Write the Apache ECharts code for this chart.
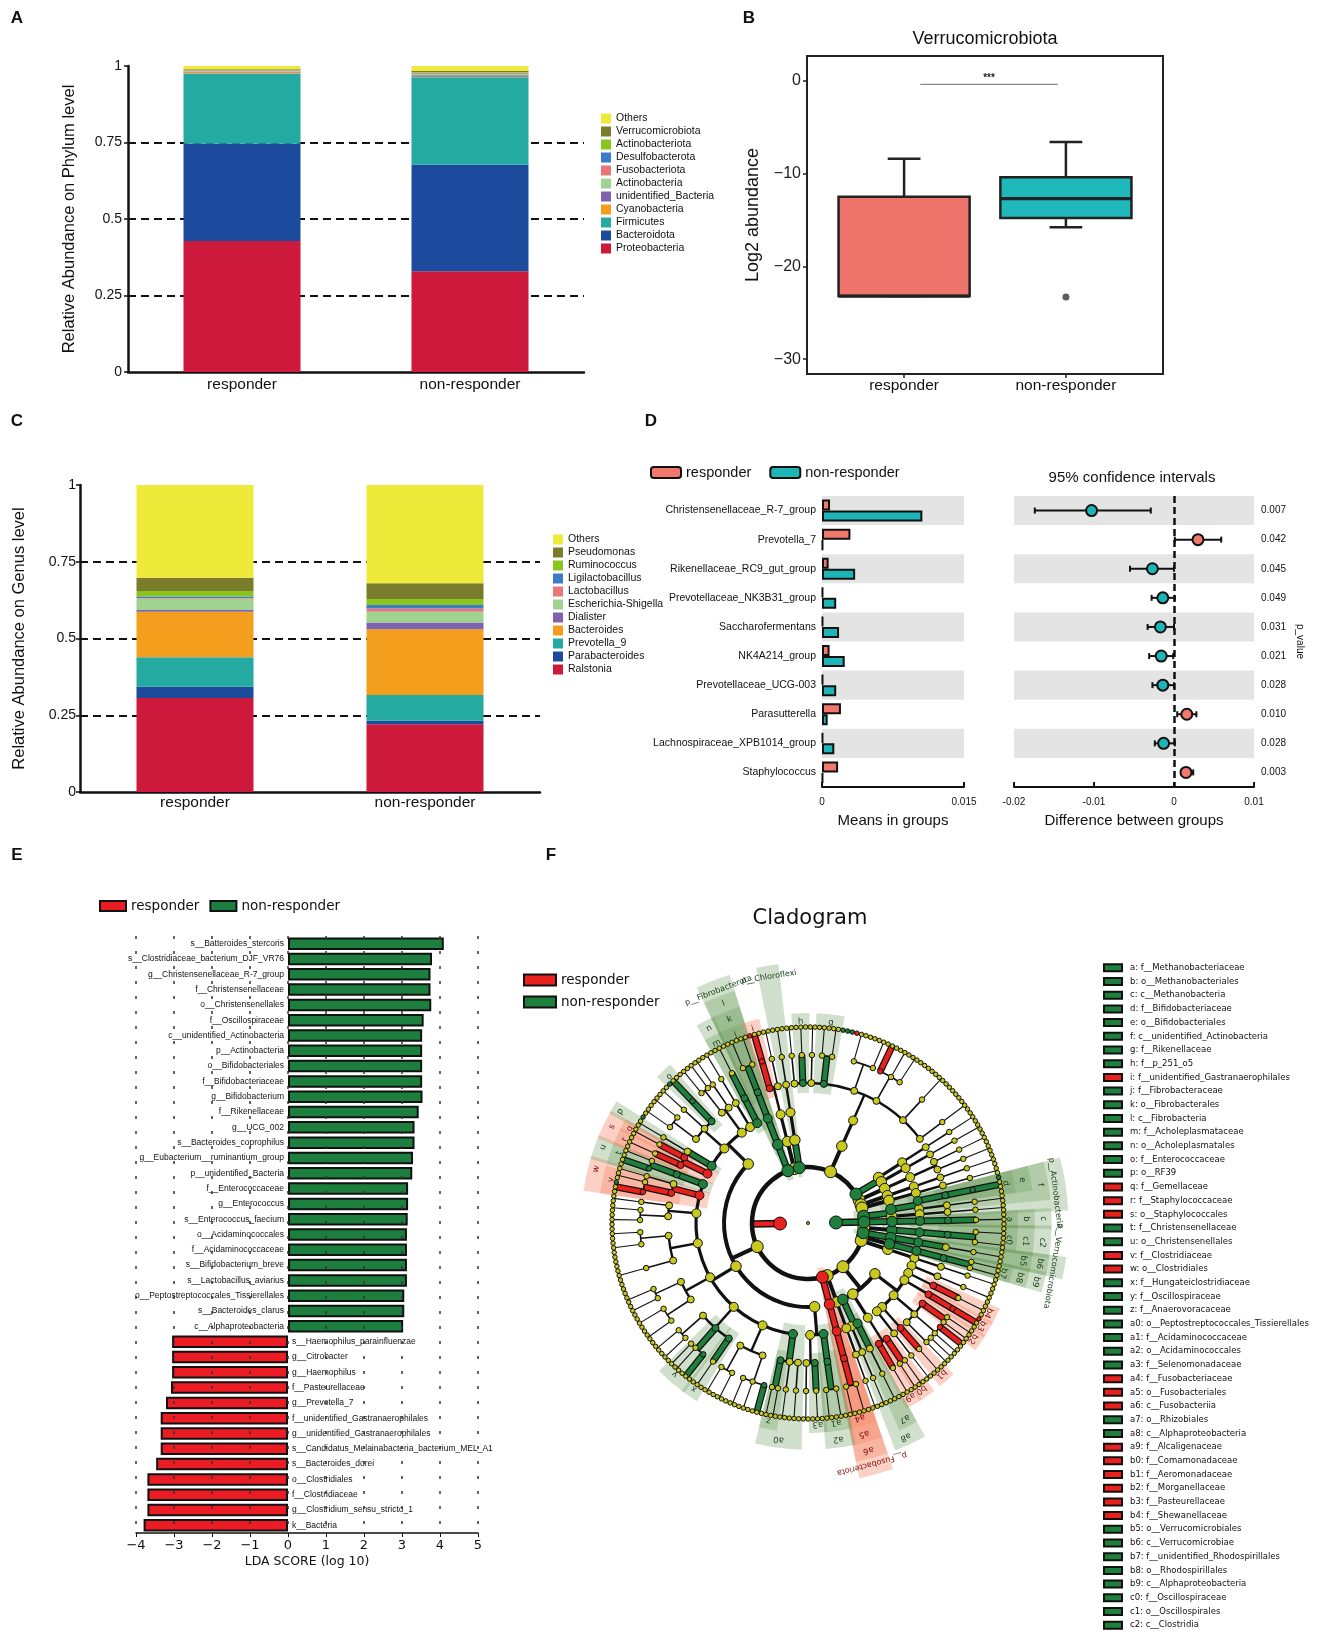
<!DOCTYPE html>
<html>
<head>
<meta charset="utf-8">
<title>Responder vs non-responder gut microbiota</title>
<script src="https://cdn.jsdelivr.net/npm/echarts@6.0.0/dist/echarts.min.js"></script>
<style>
  html, body { margin: 0; padding: 0; background: #fff; }
  #main { width: 1327px; height: 1637px; }
</style>
</head>
<body>
<div id="main"></div>
<script>
var groups = ['responder', 'non-responder'];
var groupPos = [1, 2];

// A: relative abundance, phylum level (stacked from the bottom up)
var phylumTaxa = ['Proteobacteria', 'Bacteroidota', 'Firmicutes', 'Cyanobacteria', 'unidentified_Bacteria', 'Actinobacteria', 'Fusobacteriota', 'Desulfobacterota', 'Actinobacteriota', 'Verrucomicrobiota', 'Others'];
var phylumResponder = [0.428, 0.318, 0.229, 0.004, 0.002, 0.002, 0.002, 0.001, 0.001, 0.002, 0.011];
var phylumNonResponder = [0.329, 0.348, 0.286, 0.002, 0.005, 0.004, 0.002, 0.002, 0.002, 0.004, 0.016];

// C: relative abundance, genus level
var genusTaxa = ['Ralstonia', 'Parabacteroides', 'Prevotella_9', 'Bacteroides', 'Dialister', 'Escherichia-Shigella', 'Lactobacillus', 'Ligilactobacillus', 'Ruminococcus', 'Pseudomonas', 'Others'];
var genusResponder = [0.306, 0.037, 0.096, 0.148, 0.006, 0.037, 0.002, 0.005, 0.018, 0.043, 0.302];
var genusNonResponder = [0.221, 0.011, 0.084, 0.214, 0.022, 0.035, 0.011, 0.011, 0.020, 0.051, 0.320];

// B: Verrucomicrobiota log2 abundance [min, q1, median, q3, max]
var boxStats = [[-23.2, -23.2, -23.2, -12.5, -8.4], [-15.8, -14.8, -12.7, -10.4, -6.6]];
var boxOutliers = [[2, -23.3]];
var sigBar = [1.1, 1.95, -0.4, '***'];

// D: STAMP extended error bar
var stampTaxa = ['Christensenellaceae_R-7_group', 'Prevotella_7', 'Rikenellaceae_RC9_gut_group', 'Prevotellaceae_NK3B31_group', 'Saccharofermentans', 'NK4A214_group', 'Prevotellaceae_UCG-003', 'Parasutterella', 'Lachnospiraceae_XPB1014_group', 'Staphylococcus'];
var stampResponder = [0.00085, 0.0030, 0.0007, 0.0001, 0.0001, 0.0008, 0.0001, 0.0020, 0.0001, 0.0017];
var stampNonResponder = [0.0106, 0.0001, 0.0035, 0.0015, 0.0018, 0.0024, 0.0015, 0.0006, 0.0013, 0.0001];
var stampDiff = [-0.0103, 0.0030, -0.0027, -0.0014, -0.0017, -0.0016, -0.0014, 0.0016, -0.0013, 0.0015];
var stampLow = [-0.0174, 0.0001, -0.0055, -0.0028, -0.0033, -0.0031, -0.0027, 0.0004, -0.0024, 0.0009];
var stampHigh = [-0.0029, 0.0059, 0.0000, 0.0001, 0.0000, -0.0001, 0.0000, 0.0028, 0.0001, 0.0024];
var stampP = ['0.007', '0.042', '0.045', '0.049', '0.031', '0.021', '0.028', '0.010', '0.028', '0.003'];

// E: LEfSe LDA scores (positive = non-responder, negative = responder)
var ldaTaxa = ['s__Batteroides_stercoris', 's__Clostridiaceae_bacterium_DJF_VR76', 'g__Christensenellaceae_R-7_group', 'f__Christensenellaceae', 'o__Christensenellales', 'f__Oscillospiraceae', 'c__unidentified_Actinobacteria', 'p__Actinobacteria', 'o__Bifidobacteriales', 'f__Bifidobacteriaceae', 'g__Bifidobacterium', 'f__Rikenellaceae', 'g__UCG_002', 's__Bacteroides_coprophilus', 'g__Eubacterium__ruminantium_group', 'p__unidentified_Bacteria', 'f__Enterococcaceae', 'g__Enterococcus', 's__Enterococcus_faecium', 'o__Acidaminococcales', 'f__Acidaminococcaceae', 's__Bifidobacterium_breve', 's__Lactobacillus_aviarius', 'o__Peptostreptococcales_Tissierellales', 's__Bacteroides_clarus', 'c__Alphaproteobacteria', 's__Haemophilus_parainfluenzae', 'g__Citrobacter', 'g__Haemophilus', 'f__Pasteurellaceae', 'g__Prevotella_7', 'f__unidentified_Gastranaerophilales', 'g__unidentified_Gastranaerophilales', 's__Candidatus_Melainabacteria_bacterium_MEL_A1', 's__Bacteroides_dorei', 'o__Clostridiales', 'f__Clostridiaceae', 'g__Clostridium_sensu_stricto_1', 'k__Bacteria'];
var ldaScore = [4.10, 3.79, 3.75, 3.75, 3.77, 3.57, 3.53, 3.53, 3.53, 3.53, 3.54, 3.44, 3.33, 3.33, 3.29, 3.27, 3.16, 3.16, 3.15, 3.13, 3.13, 3.13, 3.13, 3.06, 3.06, 3.03, -3.05, -3.05, -3.05, -3.08, -3.21, -3.35, -3.35, -3.35, -3.47, -3.70, -3.70, -3.70, -3.80];

// F: cladogram keys
var cladeKeys = ['a', 'b', 'c', 'd', 'e', 'f', 'g', 'h', 'i', 'j', 'k', 'l', 'm', 'n', 'o', 'p', 'q', 'r', 's', 't', 'u', 'v', 'w', 'x', 'y', 'z', 'a0', 'a1', 'a2', 'a3', 'a4', 'a5', 'a6', 'a7', 'a8', 'a9', 'b0', 'b1', 'b2', 'b3', 'b4', 'b5', 'b6', 'b7', 'b8', 'b9', 'c0', 'c1', 'c2'];
var cladeTaxa = ['f__Methanobacteriaceae', 'o__Methanobacteriales', 'c__Methanobacteria', 'f__Bifidobacteriaceae', 'o__Bifidobacteriales', 'c__unidentified_Actinobacteria', 'f__Rikenellaceae', 'f__p_251_o5', 'f__unidentified_Gastranaerophilales', 'f__Fibrobacteraceae', 'o__Fibrobacterales', 'c__Fibrobacteria', 'f__Acholeplasmataceae', 'o__Acholeplasmatales', 'f__Enterococcaceae', 'o__RF39', 'f__Gemellaceae', 'f__Staphylococcaceae', 'o__Staphylococcales', 'f__Christensenellaceae', 'o__Christensenellales', 'f__Clostridiaceae', 'o__Clostridiales', 'f__Hungateiclostridiaceae', 'f__Oscillospiraceae', 'f__Anaerovoracaceae', 'o__Peptostreptococcales_Tissierellales', 'f__Acidaminococcaceae', 'o__Acidaminococcales', 'f__Selenomonadaceae', 'f__Fusobacteriaceae', 'o__Fusobacteriales', 'c__Fusobacteriia', 'o__Rhizobiales', 'c__Alphaproteobacteria', 'f__Alcaligenaceae', 'f__Comamonadaceae', 'f__Aeromonadaceae', 'f__Morganellaceae', 'f__Pasteurellaceae', 'f__Shewanellaceae', 'o__Verrucomicrobiales', 'c__Verrucomicrobiae', 'f__unidentified_Rhodospirillales', 'o__Rhodospirillales', 'c__Alphaproteobacteria', 'f__Oscillospiraceae', 'o__Oscillospirales', 'c__Clostridia'];
var cladeGroups = ['n', 'n', 'n', 'n', 'n', 'n', 'n', 'n', 'r', 'n', 'n', 'n', 'n', 'n', 'n', 'n', 'r', 'r', 'r', 'n', 'n', 'r', 'r', 'n', 'n', 'n', 'n', 'n', 'n', 'n', 'r', 'r', 'r', 'n', 'n', 'r', 'r', 'r', 'r', 'r', 'r', 'n', 'n', 'n', 'n', 'n', 'n', 'n', 'n'];
var cladeExtraSig = ['k__Archaea', 'p__Euryarchaeota', 'p__Verrucomicrobiota', 'p__Fibrobacterota', 'p__Chloroflexi', 'p__Fusobacteriota'];
var cladeExtraGroup = ['n', 'n', 'n', 'n', 'n', 'r'];
var cladePhylumLabels = ['p__Verrucomicrobiota', 'p__Fusobacteriota', 'p__Fibrobacterota', 'p__Chloroflexi', 'p__Actinobacteria'];

// taxonomy tree, clockwise; [name, children...], 0 = unlabelled leaf, '' = unlabelled clade
var cladeTree = ['',
  ['k__Bacteria',
    ['', ['c2', ['c1', ['c0', ['', 0, 0, 0], ['', 0, 0]]]]],
    ['p__Verrucomicrobiota', ['b6', ['b5', ['', ['', 0, 0, 0]]]]],
    ['', ['b9', ['b8', ['b7', ['', 0, 0], ['', 0]]]]],
    ['', ['', ['', ['', ['', 0, 0, 0]]]]],
    ['',
      ['',
        ['', ['', ['', 0, 0, 0]]],
        ['', ['b4', ['', 0, 0, 0]]],
        ['', ['b3', ['g__Haemophilus', 's__Haemophilus_parainfluenzae', 0, 0]]],
        ['', ['b2', ['', 0, 0], ['', 0]], ['', ['g__Citrobacter', 0, 0], ['', 0, 0], ['', 0]], ['', ['', 0, 0]]],
        ['', ['b1', ['', 0, 0, 0]]],
        ['', ['', ['', 0, 0]]]
      ],
      ['', ['', ['b0', ['', 0, 0], ['', 0]], ['a9', ['', 0, 0, 0]]]],
      ['a8', ['a7', ['', ['', 0, 0, 0]]], ['', ['', ['', 0, 0]]]]
    ],
    ['', ['', ['', ['', ['', 0, 0]]]]],
    ['p__Fusobacteriota', ['a6', ['a5', ['a4', ['', 0, 0, 0], ['', 0, 0]]]]],
    ['',
      ['',
        ['a2', ['a1', ['', 0, 0, 0], ['', 0, 0]]],
        ['', ['a3', ['', 0, 0, 0]], ['', ['', 0, 0]]]
      ],
      ['',
        ['a0', ['', ['', 0, 0, 0]], ['', ['', 0, 0]], ['z', ['', 0, 0], ['', 0]]],
        ['', ['', ['g__Eubacterium__ruminantium_group', 0, 0, 0], ['', 0, 0, 0], ['', 0, 0]], ['', ['', 0, 0, 0, 0], ['', 0, 0]]],
        ['', ['x', ['', 0, 0, 0]], ['y', ['g__UCG_002', 0, 0, 0], ['', 0, 0], ['', 0]], ['', ['', 0, 0, 0], ['', 0, 0]]],
        ['', ['', ['', 0, 0, 0, 0], ['', 0, 0, 0]], ['', ['', 0, 0, 0], ['', 0, 0]]],
        ['', ['', ['', 0, 0, 0, 0, 0, 0, 0, 0, 0]], ['', ['', 0, 0, 0], ['', 0, 0, 0]]],
        ['', ['', ['', 0, 0, 0], ['', 0, 0]], ['', ['', 0, 0]]],
        ['w', ['v', ['g__Clostridium_sensu_stricto_1', 0, 0, 's__Clostridiaceae_bacterium_DJF_VR76'], ['', 0, 0]], ['', ['', 0]]],
        ['u', ['t', ['g__Christensenellaceae_R-7_group', 0, 0, 0], ['', 0]]]
      ],
      ['',
        ['s', ['r', ['', 0, 0, 0]], ['q', ['', 0, 0]]],
        ['p', ['', ['', 0, 0]]],
        ['', ['', ['', 's__Lactobacillus_aviarius', 0, 0, 0], ['', 0, 0]], ['', ['', 0, 0, 0]], ['o', ['g__Enterococcus', 's__Enterococcus_faecium', 0, 0]]],
        ['', ['', ['', 0, 0, 0], ['', 0]], ['', ['', 0, 0]]],
        ['', ['', ['', 0, 0, 0]]],
        ['n', ['m', ['', 0, 0, 0]]]
      ]
    ],
    ['p__Fibrobacterota', ['l', ['k', ['j', ['', 0, 0, 0], ['', 0, 0]]]]],
    ['', ['', ['', ['i', ['g__unidentified_Gastranaerophilales', 's__Candidatus_Melainabacteria_bacterium_MEL_A1', 0, 0]], ['', ['', 0, 0]]]]],
    ['p__Chloroflexi', ['', ['', ['', ['', 0, 0, 0]]]]],
    ['', ['', ['',
      ['', ['', 0, 0]],
      ['h', ['', 0, 0, 0]],
      ['', ['', 0, 0]],
      ['g', ['', 0, 0, 0], ['', 0, 0]],
      ['', ['g__Bacteroides', 's__Batteroides_stercoris', 's__Bacteroides_coprophilus', 's__Bacteroides_clarus', 's__Bacteroides_dorei', 0, 0, 0, 0, 0], ['', 0]],
      ['', ['g__Prevotella_7', 0, 0, 0], ['', 0, 0, 0], ['', 0, 0]],
      ['', ['', 0, 0, 0, 0, 0, 0, 0, 0, 0, 0, 0, 0]],
      ['', ['', 0, 0, 0]]
    ]]],
    ['p__unidentified_Bacteria', ['', ['', ['', ['', 0, 0, 0]]]], ['', ['', ['', ['', 0, 0]]]]],
    ['', ['', ['', ['', ['', 0, 0, 0]], ['', ['', 0, 0]]]]],
    ['', ['', ['', ['', ['', 0, 0, 0]]]]],
    ['', ['', ['', ['', ['', 0, 0]]]]],
    ['p__Actinobacteria', ['f', ['e', ['d', ['g__Bifidobacterium', 's__Bifidobacterium_breve', 0, 0, 0]]], ['', ['', ['', 0, 0]]]], ['', ['', ['', ['', 0, 0]]]]]
  ],
  ['k__Archaea', ['p__Euryarchaeota', ['c', ['b', ['a', ['', 0, 0, 0]]]]]]
];

var stackColors = ['#cd193c', '#1c4a9c', '#24aaa0', '#f39e1c', '#7e62ad', '#a0d291', '#e87878', '#3a7cc9', '#8ac41e', '#7b7b2c', '#eeea3a'];
var stampColors = ['#f2776d', '#1db5b8'];
var boxColors = ['#ed746a', '#1fb9bb'];
var groupColor = { r: '#e8211e', n: '#1f7f3d' };
var shadeColor = { r: 'rgba(244,140,110,0.40)', n: 'rgba(112,158,96,0.32)' };
var labelColor = { r: '#7a1010', n: '#183d18' };
var nodeSizes = [3, 13, 12, 10.5, 9, 7, 5.5, 4.5];
var edgeWidths = [0, 4.5, 4, 3.2, 2.4, 1.6, 1.1, 1];

function groupOf(name) {
  if (!name) return '';
  var i = cladeKeys.indexOf(name);
  if (i >= 0) return cladeGroups[i];
  i = cladeExtraSig.indexOf(name);
  if (i >= 0) return cladeExtraGroup[i];
  i = ldaTaxa.indexOf(name);
  if (i >= 0) return ldaScore[i] > 0 ? 'n' : 'r';
  return '';
}

function buildClade(tree) {
  var nodes = [], leafCount = 0;
  function walk(node, depth, parent) {
    var branch = Array.isArray(node) && node.length > 1;
    var name = Array.isArray(node) ? node[0] : (node === 0 ? '' : node);
    var n = { name: name, depth: depth, parent: parent, kids: [], group: groupOf(name), idx: nodes.length };
    nodes.push(n);
    if (branch) {
      for (var i = 1; i < node.length; i++) n.kids.push(walk(node[i], depth + 1, n));
      var first = n.kids[0], last = n.kids[n.kids.length - 1];
      n.lo = first.lo; n.hi = last.hi;
      n.angle = (first.angle + last.angle) / 2;
    } else {
      n.lo = n.hi = leafCount;
      n.angle = leafCount + 0.5;
      leafCount++;
    }
    return n;
  }
  walk(tree, 0, null);
  return { nodes: nodes, leaves: leafCount };
}
var clade = buildClade(cladeTree);

function strip(name) { return name.slice(2); }
function minus(v) { return String(v).replace('-', '\u2212'); }
function groupLabel(v) { return groups[groupPos.indexOf(+v)] || ''; }

function stackSeries(prefix, taxa, resp, non, axis, width) {
  return taxa.map(function (t, i) {
    return {
      type: 'bar', name: prefix + t, xAxisIndex: axis, yAxisIndex: axis, stack: prefix, barWidth: width,
      data: [resp[i], non[i]], itemStyle: { color: stackColors[i] }
    };
  });
}

function stackLegend(prefix, taxa, left, top) {
  return {
    left: left, top: top, orient: 'vertical', icon: 'rect', itemWidth: 10, itemHeight: 10, itemGap: 2,
    data: taxa.slice().reverse().map(function (t) { return prefix + t; }),
    formatter: strip, textStyle: { fontSize: 10.5, color: '#111' }
  };
}

function lineEl(a, b, color, width) {
  return { type: 'line', shape: { x1: a[0], y1: a[1], x2: b[0], y2: b[1] }, style: { stroke: color, lineWidth: width } };
}

function boxItem(params, api) {
  var gx = api.value(0), i = groupPos.indexOf(gx);
  var bw = api.size([0.81, 0])[0], cw = bw * 0.25;
  var x = api.coord([gx, api.value(1)])[0];
  var y = function (k) { return api.coord([gx, api.value(k)])[1]; };
  var st = { stroke: '#222', lineWidth: 2.5 };
  return { type: 'group', children: [
    { type: 'line', shape: { x1: x, y1: y(4), x2: x, y2: y(5) }, style: st },
    { type: 'line', shape: { x1: x - cw / 2, y1: y(5), x2: x + cw / 2, y2: y(5) }, style: st },
    { type: 'line', shape: { x1: x, y1: y(2), x2: x, y2: y(1) }, style: st },
    { type: 'line', shape: { x1: x - cw / 2, y1: y(1), x2: x + cw / 2, y2: y(1) }, style: st },
    { type: 'rect', shape: { x: x - bw / 2, y: y(4), width: bw, height: y(2) - y(4) }, style: { fill: boxColors[i], stroke: '#222', lineWidth: 2.5 } },
    { type: 'line', shape: { x1: x - bw / 2, y1: y(3), x2: x + bw / 2, y2: y(3) }, style: { stroke: '#222', lineWidth: 3.2 } }
  ]};
}

function sigItem(params, api) {
  var a = api.coord([api.value(0), api.value(2)]), b = api.coord([api.value(1), api.value(2)]);
  return { type: 'group', children: [
    { type: 'line', shape: { x1: a[0], y1: a[1], x2: b[0], y2: b[1] }, style: { stroke: '#888', lineWidth: 1.2 } },
    { type: 'text', x: (a[0] + b[0]) / 2, y: a[1] - 1, style: { text: sigBar[3], fontSize: 10, fontWeight: 'bold', fill: '#222', align: 'center', verticalAlign: 'bottom' } }
  ]};
}

function ciItem(params, api) {
  var i = api.value(2);
  var a = api.coord([api.value(0), i]), b = api.coord([api.value(1), i]);
  return { type: 'group', children: [
    lineEl(a, b, '#111', 2),
    lineEl([a[0], a[1] - 3], [a[0], a[1] + 3], '#111', 2),
    lineEl([b[0], b[1] - 3], [b[0], b[1] + 3], '#111', 2)
  ]};
}

function edgeItem(params, api) {
  var n = clade.nodes[api.value(2)];
  var cs = params.coordSys;
  var w = edgeWidths[n.depth];
  var parts = [];
  var pIn = api.coord([n.depth, n.angle]), pOut = api.coord([n.depth + 1, n.angle]);
  if (n.group) {
    parts.push(lineEl(pIn, pOut, '#111', Math.max(w + 3, 7)));
    parts.push(lineEl(pIn, pOut, groupColor[n.group], Math.max(w, 4.5)));
  } else {
    parts.push(lineEl(pIn, pOut, '#111', w));
  }
  if (n.kids.length > 1) {
    var a = api.coord([n.depth + 1, n.kids[0].angle]);
    var b = api.coord([n.depth + 1, n.kids[n.kids.length - 1].angle]);
    parts.push({
      type: 'arc',
      shape: { cx: cs.cx, cy: cs.cy, r: Math.hypot(a[0] - cs.cx, a[1] - cs.cy), startAngle: Math.atan2(a[1] - cs.cy, a[0] - cs.cx), endAngle: Math.atan2(b[1] - cs.cy, b[0] - cs.cx), clockwise: true },
      style: { stroke: '#111', lineWidth: w, fill: 'none' }
    });
  }
  return { type: 'group', children: parts };
}

function shadeItem(params, api) {
  var n = clade.nodes[api.value(2)];
  var cs = params.coordSys;
  var outer = 7.5 + (5 - n.depth) * 0.6;
  var angleAt = function (r, a) { var p = api.coord([r, a]); return Math.atan2(p[1] - cs.cy, p[0] - cs.cx); };
  var radiusAt = function (r) { var p = api.coord([r, n.angle]); return Math.hypot(p[0] - cs.cx, p[1] - cs.cy); };
  var key = cladeKeys.indexOf(n.name);
  var lp = api.coord([outer - (key >= 0 ? 0.3 : 0.4), n.angle]);
  var theta = Math.atan2(lp[1] - cs.cy, lp[0] - cs.cx);
  return { type: 'group', children: [
    { type: 'sector', shape: { cx: cs.cx, cy: cs.cy, r0: radiusAt(n.depth - 0.35), r: radiusAt(outer), startAngle: angleAt(outer, n.lo - 0.3), endAngle: angleAt(outer, n.hi + 1.3), clockwise: true }, style: { fill: shadeColor[n.group] } },
    { type: 'text', x: lp[0], y: lp[1], rotation: -(theta + Math.PI / 2), style: { text: key >= 0 ? cladeKeys[key] : n.name, fontSize: key >= 0 ? 8.5 : 8, fontFamily: 'DejaVu Sans', fill: labelColor[n.group], align: 'center', verticalAlign: 'middle' } }
  ]};
}

function keyItem(params, api) {
  var i = api.value(1);
  var p = api.coord([0, i]);
  return { type: 'group', children: [
    { type: 'rect', shape: { x: p[0] + 1, y: p[1] - 3.5, width: 18, height: 7 }, style: { fill: groupColor[cladeGroups[i]], stroke: '#111', lineWidth: 2 } },
    { type: 'text', x: p[0] + 27, y: p[1], style: { text: cladeKeys[i] + ': ' + cladeTaxa[i], fontSize: 8.5, fontFamily: 'DejaVu Sans', fill: '#111', verticalAlign: 'middle' } }
  ]};
}

function nodeSeries(name, group, color) {
  return {
    type: 'scatter', name: name, coordinateSystem: 'polar', polarIndex: 0, z: 4,
    symbolSize: function (v) { return nodeSizes[v[0]]; },
    itemStyle: { color: color, borderColor: '#111', borderWidth: 1, opacity: 1 },
    data: clade.nodes.filter(function (n) { return n.group === group; }).map(function (n) { return [n.depth, n.angle]; })
  };
}

var cladeEdges = clade.nodes.filter(function (n) { return n.depth >= 1 && n.kids.length; })
  .sort(function (a, b) { return (a.group ? 1 : 0) - (b.group ? 1 : 0); })
  .map(function (n) { return [n.depth, n.angle, n.idx]; });
var cladeShades = clade.nodes.filter(function (n) {
  return cladeKeys.indexOf(n.name) >= 0 || cladePhylumLabels.indexOf(n.name) >= 0;
}).map(function (n) { return [n.depth, n.angle, n.idx]; });

var blackLine = { onZero: false, lineStyle: { color: '#111', width: 2.5 } };
var dashed = { show: true, showMinLine: false, showMaxLine: false, lineStyle: { type: [8, 5], color: '#111', width: 1.8 } };
var stripes = { show: true, areaStyle: { color: ['#e4e4e4', 'rgba(255,255,255,0)'] } };

function panelText(text, x, y, size, family, weight) {
  return { type: 'text', x: x, y: y, style: { text: text, fontSize: size, fontFamily: family || 'Liberation Sans', fontWeight: weight || 'normal', fill: '#111', align: 'center', verticalAlign: 'middle' } };
}

var chart = echarts.init(document.getElementById('main'));
chart.setOption({
  animation: false,
  backgroundColor: '#fff',
  textStyle: { fontFamily: 'Liberation Sans' },
  graphic: [
    panelText('A', 17, 18, 17, null, 'bold'),
    panelText('B', 749, 18, 17, null, 'bold'),
    panelText('C', 17, 421, 17, null, 'bold'),
    panelText('D', 651, 421, 17, null, 'bold'),
    panelText('E', 17, 855, 17, null, 'bold'),
    panelText('F', 551, 855, 17, null, 'bold'),
    panelText('Verrucomicrobiota', 985, 39, 18),
    panelText('95% confidence intervals', 1132, 478, 15),
    panelText('Cladogram', 810, 919, 21, 'DejaVu Sans')
  ],
  legend: [
    stackLegend('A:', phylumTaxa, 596, 108),
    stackLegend('C:', genusTaxa, 548, 529),
    { left: 645, top: 460, icon: 'roundRect', itemWidth: 30, itemHeight: 11, itemGap: 18, data: ['D:responder', 'D:non-responder'], formatter: strip, itemStyle: { borderColor: '#111', borderWidth: 2 }, textStyle: { fontSize: 14.5, color: '#111' } },
    { left: 94, top: 894, icon: 'rect', itemWidth: 26, itemHeight: 10, itemGap: 10, data: ['E:responder', 'E:non-responder'], formatter: strip, itemStyle: { borderColor: '#111', borderWidth: 2 }, textStyle: { fontSize: 13.5, fontFamily: 'DejaVu Sans', color: '#111' } },
    { left: 518, top: 968, orient: 'vertical', icon: 'rect', itemWidth: 32, itemHeight: 11, itemGap: 8, data: ['F:responder', 'F:non-responder'], formatter: strip, itemStyle: { borderColor: '#111', borderWidth: 2 }, textStyle: { fontSize: 13.5, fontFamily: 'DejaVu Sans', color: '#111' } }
  ],
  grid: [
    { left: 128, top: 66, width: 456, height: 306 },
    { left: 807, top: 56, width: 356, height: 318, show: true, borderColor: '#222', borderWidth: 2 },
    { left: 80, top: 485, width: 460, height: 307 },
    { left: 822, top: 496, width: 142, height: 291 },
    { left: 1014, top: 496, width: 240, height: 291 },
    { left: 136, top: 936, width: 342, height: 597 },
    { left: 1103, top: 961, width: 160, height: 671 }
  ],
  polar: { center: [808, 1223], radius: 266 },
  angleAxis: { type: 'value', min: 0, max: clade.leaves, startAngle: -1, clockwise: true, show: false },
  radiusAxis: { type: 'value', min: 0, max: 9.5, show: false },
  xAxis: [
    { type: 'category', gridIndex: 0, data: groups, axisLine: blackLine, axisTick: { length: 4, lineStyle: { color: '#111', width: 1.5 } }, axisLabel: { fontSize: 15.5, color: '#111', margin: 5 } },
    {
      type: 'value', gridIndex: 1, min: 0.4, max: 2.6, splitLine: { show: false }, axisLine: { show: false, onZero: false },
      axisTick: { show: true, length: 4, customValues: groupPos, lineStyle: { color: '#222', width: 1.5 } },
      axisLabel: { fontSize: 15.5, color: '#111', margin: 4, customValues: groupPos, formatter: groupLabel }
    },
    { type: 'category', gridIndex: 2, data: groups, axisLine: blackLine, axisTick: { length: 4, lineStyle: { color: '#111', width: 1.5 } }, axisLabel: { fontSize: 15.5, color: '#111', margin: 3 } },
    { type: 'value', gridIndex: 3, min: 0, max: 0.015, interval: 0.015, splitLine: { show: false }, axisLine: { show: true, lineStyle: { color: '#111', width: 2 } }, axisTick: { show: true, inside: true, length: 5, lineStyle: { color: '#111', width: 2 } }, axisLabel: { fontSize: 10, color: '#111', margin: 10 }, name: 'Means in groups', nameLocation: 'middle', nameGap: 26, nameTextStyle: { fontSize: 15, color: '#111' } },
    { type: 'value', gridIndex: 4, min: -0.02, max: 0.01, interval: 0.01, splitLine: { show: false }, axisLine: { show: true, lineStyle: { color: '#111', width: 2 } }, axisTick: { show: true, inside: true, length: 5, lineStyle: { color: '#111', width: 2 } }, axisLabel: { fontSize: 10, color: '#111', margin: 10 }, name: 'Difference between groups', nameLocation: 'middle', nameGap: 26, nameTextStyle: { fontSize: 15, color: '#111' } },
    { type: 'value', gridIndex: 5, min: -4, max: 5, interval: 1, z: 3, splitLine: { show: true, lineStyle: { type: [3, 12], color: '#333', width: 1.5 } }, axisLine: { show: true, lineStyle: { color: '#111', width: 1.5 } }, axisTick: { show: true, length: 4, lineStyle: { color: '#111' } }, axisLabel: { fontSize: 13, fontFamily: 'DejaVu Sans', color: '#111', margin: 6, formatter: minus }, name: 'LDA SCORE (log 10)', nameLocation: 'middle', nameGap: 22, nameTextStyle: { fontSize: 12.5, fontFamily: 'DejaVu Sans', color: '#111' } },
    { type: 'value', gridIndex: 6, min: 0, max: 1, show: false }
  ],
  yAxis: [
    { type: 'value', gridIndex: 0, min: 0, max: 1, interval: 0.25, axisLine: { show: true, lineStyle: { color: '#111', width: 2.5 } }, axisTick: { show: true, length: 4, lineStyle: { color: '#111', width: 1.5 } }, axisLabel: { fontSize: 14, color: '#111', margin: 6 }, splitLine: dashed, name: 'Relative Abundance on Phylum level', nameLocation: 'middle', nameGap: 50, nameTextStyle: { fontSize: 16.5, color: '#111' } },
    { type: 'value', gridIndex: 1, min: -31.6, max: 2.66, axisLine: { show: false, onZero: false }, splitLine: { show: false }, axisTick: { show: true, length: 4, customValues: [-30, -20, -10, 0], lineStyle: { color: '#222', width: 1.5 } }, axisLabel: { fontSize: 16, color: '#222', margin: 6, customValues: [-30, -20, -10, 0], formatter: minus }, name: 'Log2 abundance', nameLocation: 'middle', nameGap: 45, nameTextStyle: { fontSize: 18, color: '#111' } },
    { type: 'value', gridIndex: 2, min: 0, max: 1, interval: 0.25, axisLine: { show: true, lineStyle: { color: '#111', width: 2.5 } }, axisTick: { show: true, length: 4, lineStyle: { color: '#111', width: 1.5 } }, axisLabel: { fontSize: 14, color: '#111', margin: 4 }, splitLine: dashed, name: 'Relative Abundance on Genus level', nameLocation: 'middle', nameGap: 52, nameTextStyle: { fontSize: 16.5, color: '#111' } },
    { type: 'category', gridIndex: 3, data: stampTaxa, inverse: true, axisLine: { show: false }, axisTick: { show: false }, axisLabel: { fontSize: 10.5, color: '#111', margin: 6 }, splitArea: stripes },
    { type: 'category', gridIndex: 4, data: stampTaxa, inverse: true, axisLine: { show: false }, axisTick: { show: false }, axisLabel: { show: false }, splitArea: stripes },
    { type: 'category', gridIndex: 4, data: stampP, inverse: true, position: 'right', axisLine: { show: false }, axisTick: { show: false }, axisLabel: { fontSize: 10, color: '#111', margin: 7 }, name: 'p_value', nameLocation: 'middle', nameRotate: -90, nameGap: 41, nameTextStyle: { fontSize: 10, color: '#111' } },
    { type: 'category', gridIndex: 5, data: ldaTaxa, inverse: true, show: false },
    { type: 'category', gridIndex: 6, data: cladeKeys, inverse: true, show: false }
  ],
  series: [].concat(
    stackSeries('A:', phylumTaxa, phylumResponder, phylumNonResponder, 0, 117),
    stackSeries('C:', genusTaxa, genusResponder, genusNonResponder, 2, 117),
    [
      { type: 'custom', name: 'box', xAxisIndex: 1, yAxisIndex: 1, renderItem: boxItem, encode: { x: 0, y: [1, 2, 3, 4, 5] }, data: boxStats.map(function (s, i) { return [groupPos[i]].concat(s); }) },
      { type: 'scatter', name: 'outlier', xAxisIndex: 1, yAxisIndex: 1, symbolSize: 7, itemStyle: { color: '#333' }, data: boxOutliers },
      { type: 'custom', name: 'sig', xAxisIndex: 1, yAxisIndex: 1, renderItem: sigItem, encode: { x: [0, 1], y: 2 }, data: [sigBar.slice(0, 3)] },

      { type: 'bar', name: 'D:responder', xAxisIndex: 3, yAxisIndex: 3, barWidth: 11, barGap: '0%', itemStyle: { color: stampColors[0], borderColor: '#111', borderWidth: 2 }, data: stampResponder },
      { type: 'bar', name: 'D:non-responder', xAxisIndex: 3, yAxisIndex: 3, barWidth: 11, barGap: '0%', itemStyle: { color: stampColors[1], borderColor: '#111', borderWidth: 2 }, data: stampNonResponder },
      { type: 'custom', name: 'ci', xAxisIndex: 4, yAxisIndex: 4, renderItem: ciItem, encode: { x: [0, 1], y: 2 }, data: stampLow.map(function (l, i) { return [l, stampHigh[i], i]; }) },
      {
        type: 'scatter', name: 'diff', xAxisIndex: 4, yAxisIndex: 4, symbolSize: 11, z: 4,
        itemStyle: { borderColor: '#111', borderWidth: 2, opacity: 1 },
        data: stampDiff.map(function (d, i) { return { value: [d, i], itemStyle: { color: d > 0 ? stampColors[0] : stampColors[1] } }; }),
        markLine: { silent: true, symbol: 'none', label: { show: false }, lineStyle: { type: [7, 4], color: '#111', width: 2.5 }, data: [{ xAxis: 0 }] }
      },

      { type: 'bar', name: 'E:non-responder', xAxisIndex: 5, yAxisIndex: 6, barWidth: 12.5, barGap: '-100%', itemStyle: { color: '#1d7f3d', borderColor: '#111', borderWidth: 2 }, label: { show: true, position: 'left', distance: 4, formatter: '{b}', fontSize: 8.5, color: '#111' }, data: ldaScore.map(function (v) { return v > 0 ? v : '-'; }) },
      { type: 'bar', name: 'E:responder', xAxisIndex: 5, yAxisIndex: 6, barWidth: 12.5, barGap: '-100%', itemStyle: { color: '#ec1c24', borderColor: '#111', borderWidth: 2 }, label: { show: true, position: 'right', distance: 4, formatter: '{b}', fontSize: 8.5, color: '#111' }, data: ldaScore.map(function (v) { return v < 0 ? v : '-'; }) },

      { type: 'custom', name: 'shade', coordinateSystem: 'polar', polarIndex: 0, z: 1, renderItem: shadeItem, encode: { radius: 0, angle: 1 }, data: cladeShades },
      { type: 'custom', name: 'edges', coordinateSystem: 'polar', polarIndex: 0, z: 2, renderItem: edgeItem, encode: { radius: 0, angle: 1 }, data: cladeEdges },
      nodeSeries('clade', '', '#c8c81e'),
      nodeSeries('F:responder', 'r', groupColor.r),
      nodeSeries('F:non-responder', 'n', groupColor.n),
      { type: 'custom', name: 'keys', xAxisIndex: 6, yAxisIndex: 7, renderItem: keyItem, encode: { x: 0, y: 1 }, data: cladeKeys.map(function (k, i) { return [0, i]; }) }
    ]
  )
});
</script>
</body>
</html>
